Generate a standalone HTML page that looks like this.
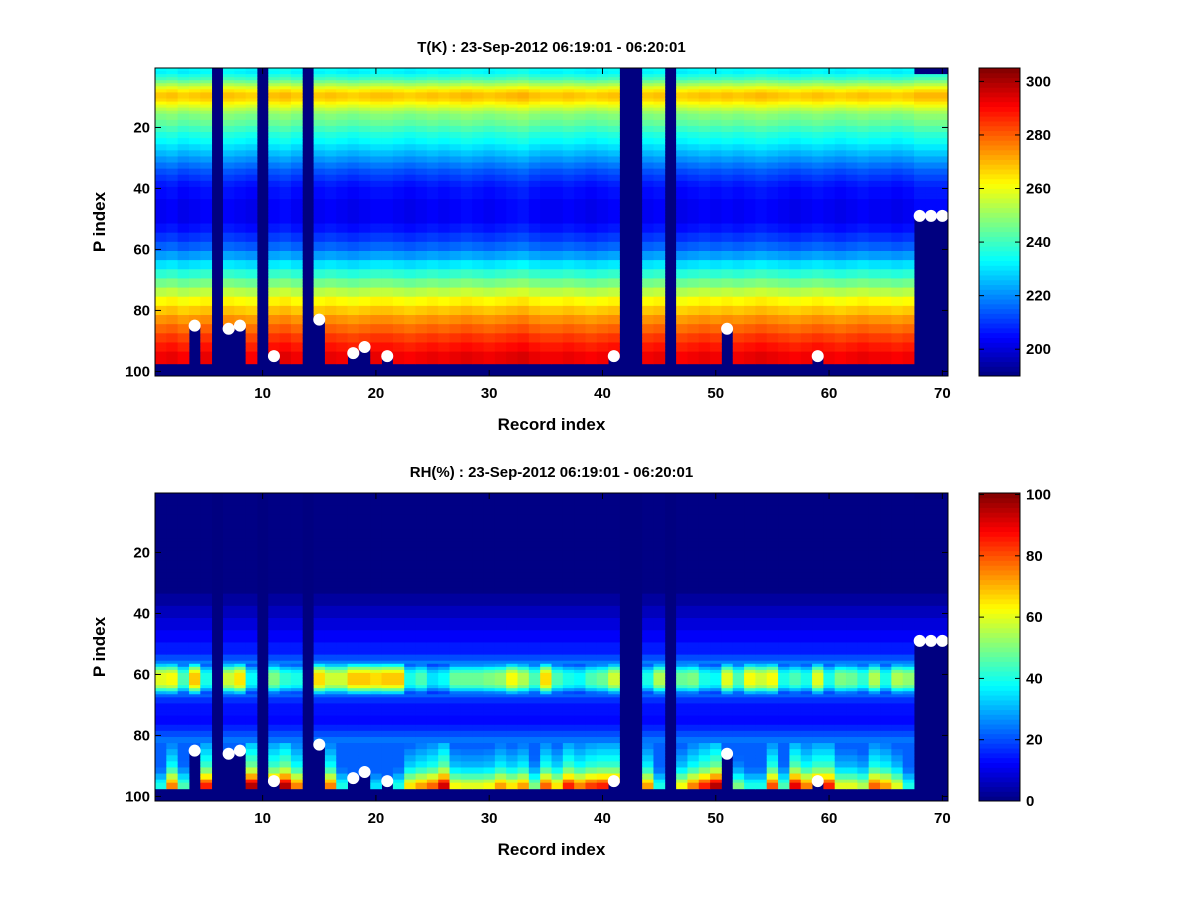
<!DOCTYPE html>
<html><head><meta charset="utf-8">
<style>
html,body{margin:0;padding:0;background:#fff;}
svg{display:block;font-family:"Liberation Sans",Arial,sans-serif;font-weight:bold;}
</style></head>
<body>
<svg id="fig" width="1200" height="900" viewBox="0 0 1200 900" xmlns="http://www.w3.org/2000/svg">
<rect width="1200" height="900" fill="#fff"/>
</svg>
<script>
// ---- data ----
const records = Array.from({length:70},(_,i)=>i+1);
const xTicks = [10,20,30,40,50,60,70];
const yTicks = [20,40,60,80,100];
const tBarTicks = [200,220,240,260,280,300];
const rhBarTicks = [0,20,40,60,80,100];
// temperature profile: band start rows and values (K)
const tLevelStart = [1,2,3,4,5,6,7,8,9,11,12,13,14,15,16,18,20,22,24,26,28,30,32,34,36,38,40,44,48,52,55,58,61,64,67,70,73,76,79,82,85,88,91,94];
const tLevelVal   = [233,232,236,240,246,252,258,264,268,266,262,258,254,250,247,244,240,236,233,229,225,221,217,213,210,207,205,203,203,206,210,215,222,230,238,246,254,262,268,274,279,284,288,292];
const tOffset = [0,1,-1,0,1,0,1,0,-1,0,1,2,0,-1,0,1,0,-1,0,1,1,0,-1,0,1,0,1,2,1,0,1,2,3,1,0,0,1,0,-1,0,1,0,0,0,1,0,-1,0,1,0,1,0,1,2,1,0,-1,0,1,0,-1,0,1,0,0,-1,0,2,2,2];
// RH profile (values, or multipliers in mid band 57-66 and bottom band 83+)
const rhLevelStart = [1,34,38,42,46,50,54,56,57,58,59,60,64,65,66,67,68,70,74,77,79,81,83,85,87,89,91,93,95,96];
const rhLevelVal   = [0.5,3,6,9,12,15,20,25,0.55,0.75,0.9,1,0.9,0.7,0.5,22,17,14,13,16,20,24,0.35,0.4,0.45,0.5,0.6,0.75,0.9,1];
const rhMid = [60,62,45,68,40,0,58,65,38,0,50,42,40,0,66,58,58,68,68,66,68,68,40,45,35,38,48,48,48,50,52,62,55,45,66,45,40,38,45,48,58,0,0,40,55,0,48,50,40,38,60,45,62,58,62,40,45,40,60,40,50,48,42,55,40,55,52,10,10,10];
const rhBot = [40,75,45,0,85,0,0,0,95,0,85,95,75,0,0,75,40,30,30,35,0,40,65,72,78,92,62,60,60,62,72,65,72,50,78,65,85,75,82,85,85,0,0,72,40,0,62,75,85,95,0,50,40,40,80,45,90,75,85,85,60,60,55,78,72,60,40,0,0,0];
// missing records, surface dots
const missingRecords = [6,10,14,42,43,46];
const dotRecords = [4,7,8,11,15,18,19,21,41,51,59,68,69,70];
const dotLevels  = [85,86,85,95,83,94,92,95,95,86,95,49,49,49];
const topMissing = [68,69,70];
</script>
<script>
const NS="http://www.w3.org/2000/svg";
const svg=document.getElementById('fig');
function mk(tag,attrs,parent){const e=document.createElementNS(NS,tag);for(const k in attrs)e.setAttribute(k,attrs[k]);(parent||svg).appendChild(e);return e;}
function jet(v){v=Math.max(0,Math.min(1,v));const c=x=>Math.round(255*Math.max(0,Math.min(1,1.5-Math.abs(x))));return `rgb(${c(4*v-3)},${c(4*v-2)},${c(4*v-1)})`;}
const NROWS=101;
function surfOf(c){const i=dotRecords.indexOf(c);return i>=0?dotLevels[i]:97;}
function levelVal(starts,vals,r){let v=vals[0];for(let i=0;i<starts.length;i++){if(r>=starts[i])v=vals[i];}return v;}
function tValue(c,r){
  if(missingRecords.includes(c))return null;
  if(r>surfOf(c))return null;
  if(topMissing.includes(c)&&r<=2)return null;
  return levelVal(tLevelStart,tLevelVal,r)+tOffset[c-1];
}
function rhValue(c,r){
  if(missingRecords.includes(c))return null;
  if(r>surfOf(c))return null;
  if(topMissing.includes(c)&&r<=2)return null;
  const v=levelVal(rhLevelStart,rhLevelVal,r);
  if(r>=57&&r<=66)return Math.max(15,rhMid[c-1]*v);
  if(r>=83)return Math.max(22,rhBot[c-1]*v);
  return v;
}
function panel(cfg){
  const {top,title,vmin,vmax,valueFn,barTicks,name}=cfg;
  const L=155,R=948,B=top+308,H=308;
  const xS=x=>L+(x-0.5)*(R-L)/70;
  const yS=y=>top+(y-0.5)*H/NROWS;
  const g=mk('g',{});
  
  
  mk('rect',{x:L,y:top,width:R-L,height:H,fill:jet(0)},g);
  for(const c of records){for(let r=1;r<=NROWS;r++){
    const v=valueFn(c,r);if(v===null)continue;
    const cell=mk('rect',{x:xS(c-0.5).toFixed(2),y:yS(r-0.5).toFixed(2),width:((R-L)/70+0.4).toFixed(2),height:(H/NROWS+0.4).toFixed(2),fill:jet((v-vmin)/(vmax-vmin))},g);
    
    
  }}
  dotRecords.forEach((c,i)=>{
    const d=mk('circle',{cx:xS(c),cy:yS(dotLevels[i]),r:6,fill:'#fff'});
    
    
  });
  const frame=mk('rect',{x:L,y:top,width:R-L,height:H,fill:'none',stroke:'#000','stroke-width':1});
  
  
  xTicks.forEach(t=>{
    const x=xS(t);
    mk('line',{x1:x,x2:x,y1:B,y2:B-6,stroke:'#000'});mk('line',{x1:x,x2:x,y1:top,y2:top+6,stroke:'#000'});
    const tx=mk('text',{x:x,y:B+22,'text-anchor':'middle','font-size':15});tx.textContent=t;
    
    
  });
  yTicks.forEach(t=>{
    const y=yS(t);
    mk('line',{x1:L,x2:L+6,y1:y,y2:y,stroke:'#000'});mk('line',{x1:R,x2:R-6,y1:y,y2:y,stroke:'#000'});
    const tx=mk('text',{x:L-5,y:y+5,'text-anchor':'end','font-size':15});tx.textContent=t;
    
    
  });
  const ttl=mk('text',{x:(L+R)/2,y:top-16,'text-anchor':'middle','font-size':15});ttl.textContent=title;
  
  
  const xl=mk('text',{x:(L+R)/2,y:B+54,'text-anchor':'middle','font-size':17});xl.textContent='Record index';
  
  
  const yl=mk('text',{x:0,y:0,'text-anchor':'middle','font-size':17,transform:`translate(105,${top+H/2}) rotate(-90)`});yl.textContent='P index';
  
  
  // colorbar
  const cL=979,cR=1020;
  const cb=mk('g',{});
  
  
  const N=64;
  for(let i=0;i<N;i++){
    mk('rect',{x:cL,y:(top+H-(i+1)*H/N).toFixed(2),width:cR-cL,height:(H/N+0.5).toFixed(2),fill:jet((i+0.5)/N)},cb);
  }
  mk('rect',{x:cL,y:top,width:cR-cL,height:H,fill:'none',stroke:'#000'},cb);
  const cy=v=>top+H-(v-vmin)/(vmax-vmin)*H;
  barTicks.forEach(t=>{
    const y=cy(t);
    mk('line',{x1:cL,x2:cL+5,y1:y,y2:y,stroke:'#000'},cb);mk('line',{x1:cR,x2:cR-5,y1:y,y2:y,stroke:'#000'},cb);
    const tx=mk('text',{x:cR+6,y:y+5,'font-size':15},cb);tx.textContent=t;
    
    
  });
}
panel({top:68,title:'T(K) : 23-Sep-2012 06:19:01 - 06:20:01',vmin:190,vmax:305,valueFn:tValue,barTicks:tBarTicks,name:'temperature'});
panel({top:493,title:'RH(%) : 23-Sep-2012 06:19:01 - 06:20:01',vmin:0,vmax:100.5,valueFn:rhValue,barTicks:rhBarTicks,name:'humidity'});
</script>
</body></html>
